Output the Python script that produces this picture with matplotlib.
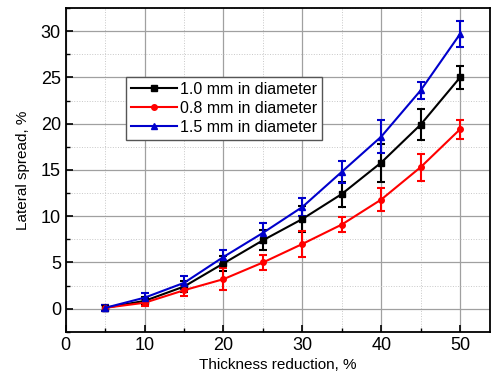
import numpy as np
import matplotlib.pyplot as plt
from matplotlib.ticker import MultipleLocator
from matplotlib.lines import Line2D

plt.rcParams['font.family'] = ['Liberation Sans', 'DejaVu Sans']

thickness = [5, 10, 15, 20, 25, 30, 35, 40, 45, 50]

d10 = [0.1, 0.85, 2.4, 4.9, 7.4, 9.7, 12.4, 15.8, 19.9, 25.0]
d10_err = [0.3, 0.4, 0.6, 0.8, 1.1, 1.45, 1.35, 2.05, 1.7, 1.2]

d08 = [0.1, 0.65, 2.0, 3.2, 5.0, 7.0, 9.1, 11.8, 15.3, 19.4]
d08_err = [0.3, 0.35, 0.6, 1.2, 0.85, 1.4, 0.85, 1.25, 1.45, 1.0]

d15 = [0.1, 1.2, 2.8, 5.6, 8.2, 11.0, 14.8, 18.6, 23.6, 29.7]
d15_err = [0.3, 0.5, 0.7, 0.8, 1.1, 0.95, 1.2, 1.75, 0.9, 1.4]

labels = ['1.0 mm in diameter', '0.8 mm in diameter', '1.5 mm in diameter']
colors = ['black', 'red', '#0000cc']
markers = ['s', 'o', '^']
msizes = [4, 4, 5]

fig = plt.figure(figsize=(4.91, 3.85), dpi=100)
ax = fig.add_axes([0.134, 0.138, 0.864, 0.841])

handles = []
for y, e, c, m, ms, lab in zip([d10, d08, d15], [d10_err, d08_err, d15_err],
                               colors, markers, msizes, labels):
    ax.errorbar(thickness, y, yerr=e, color=c, marker=m, markersize=ms,
                linewidth=1.5, capsize=3, elinewidth=1.5, capthick=1.5)
    handles.append(Line2D([], [], color=c, marker=m, markersize=ms, linewidth=1.5, label=lab))

ax.set_xlim(0, 53.8)
ax.set_ylim(-2.5, 32.5)
ax.xaxis.set_major_locator(MultipleLocator(10))
ax.xaxis.set_minor_locator(MultipleLocator(5))
ax.yaxis.set_major_locator(MultipleLocator(5))
ax.yaxis.set_minor_locator(MultipleLocator(2.5))

ax.grid(which='major', color='#a0a0a0', linewidth=0.9)
ax.grid(which='minor', color='#c8c8c8', linewidth=0.7, linestyle=':')
ax.set_axisbelow(True)

ax.tick_params(which='both', direction='in', labelsize=13)
ax.tick_params(which='major', length=5, width=1.2)
ax.tick_params(which='minor', length=3, width=1)
for s in ax.spines.values():
    s.set_linewidth(1.3)

ax.set_xlabel('Thickness reduction, %', fontsize=11, labelpad=3)
ax.set_ylabel('Lateral spread, %', fontsize=11, labelpad=8)

leg = ax.legend(handles=handles, loc='upper left', bbox_to_anchor=(0.142, 0.787), fontsize=11.5,
                fancybox=False, framealpha=1, edgecolor='#555555',
                handlelength=2.9, handletextpad=0.2, borderpad=0.3, labelspacing=0.25,
                borderaxespad=0)
leg.get_frame().set_linewidth(1.0)

fig.savefig('out.png', dpi=100)
